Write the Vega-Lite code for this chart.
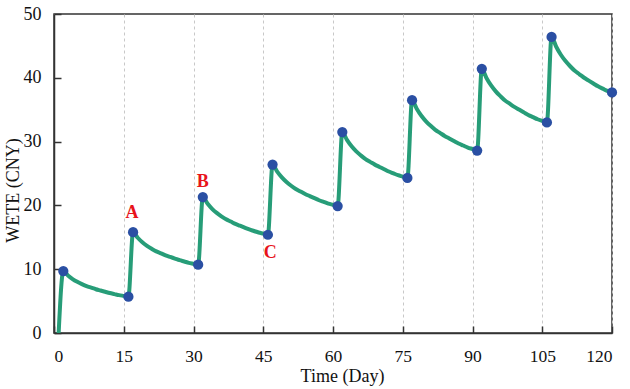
{
  "$schema": "https://vega.github.io/schema/vega-lite/v6.json",
  "autosize": "none",
  "width": 558,
  "height": 319,
  "padding": {"left": 54, "top": 14, "right": 18, "bottom": 56},
  "background": "white",
  "config": {
    "view": {"stroke": "#333", "strokeWidth": 1.5},
    "font": "'Times New Roman', 'Liberation Serif', Tinos, serif",
    "axis": {
      "labelFont": "'Times New Roman', 'Liberation Serif', Tinos, serif",
      "titleFont": "'Times New Roman', 'Liberation Serif', Tinos, serif",
      "labelFontSize": 18,
      "titleFontSize": 18,
      "titleFontWeight": "normal",
      "labelColor": "#111",
      "titleColor": "#111",
      "domainColor": "#333",
      "domainWidth": 1.5,
      "tickColor": "#333",
      "tickWidth": 1.5,
      "tickSize": -7
    }
  },
  "datasets": {
    "curve": [
      {"day": 1, "wete": 0},
      {"day": 2, "wete": 9.7}, {"day": 3, "wete": 9.02}, {"day": 4, "wete": 8.46}, {"day": 5, "wete": 8.02}, {"day": 6, "wete": 7.66}, {"day": 7, "wete": 7.34}, {"day": 8, "wete": 7.1}, {"day": 9, "wete": 6.86}, {"day": 10, "wete": 6.66}, {"day": 11, "wete": 6.46}, {"day": 12, "wete": 6.26}, {"day": 13, "wete": 6.1}, {"day": 14, "wete": 5.94}, {"day": 15, "wete": 5.82}, {"day": 16, "wete": 5.7},
      {"day": 17, "wete": 15.8}, {"day": 18, "wete": 14.93}, {"day": 19, "wete": 14.22}, {"day": 20, "wete": 13.66}, {"day": 21, "wete": 13.2}, {"day": 22, "wete": 12.79}, {"day": 23, "wete": 12.49}, {"day": 24, "wete": 12.18}, {"day": 25, "wete": 11.92}, {"day": 26, "wete": 11.67}, {"day": 27, "wete": 11.41}, {"day": 28, "wete": 11.21}, {"day": 29, "wete": 11.0}, {"day": 30, "wete": 10.85}, {"day": 31, "wete": 10.7},
      {"day": 32, "wete": 21.3}, {"day": 33, "wete": 20.3}, {"day": 34, "wete": 19.47}, {"day": 35, "wete": 18.82}, {"day": 36, "wete": 18.29}, {"day": 37, "wete": 17.82}, {"day": 38, "wete": 17.47}, {"day": 39, "wete": 17.11}, {"day": 40, "wete": 16.82}, {"day": 41, "wete": 16.52}, {"day": 42, "wete": 16.23}, {"day": 43, "wete": 15.99}, {"day": 44, "wete": 15.75}, {"day": 45, "wete": 15.58}, {"day": 46, "wete": 15.4},
      {"day": 47, "wete": 26.4}, {"day": 48, "wete": 25.3}, {"day": 49, "wete": 24.39}, {"day": 50, "wete": 23.67}, {"day": 51, "wete": 23.08}, {"day": 52, "wete": 22.57}, {"day": 53, "wete": 22.18}, {"day": 54, "wete": 21.79}, {"day": 55, "wete": 21.46}, {"day": 56, "wete": 21.14}, {"day": 57, "wete": 20.81}, {"day": 58, "wete": 20.55}, {"day": 59, "wete": 20.29}, {"day": 60, "wete": 20.1}, {"day": 61, "wete": 19.9},
      {"day": 62, "wete": 31.5}, {"day": 63, "wete": 30.28}, {"day": 64, "wete": 29.27}, {"day": 65, "wete": 28.48}, {"day": 66, "wete": 27.83}, {"day": 67, "wete": 27.25}, {"day": 68, "wete": 26.82}, {"day": 69, "wete": 26.39}, {"day": 70, "wete": 26.03}, {"day": 71, "wete": 25.67}, {"day": 72, "wete": 25.31}, {"day": 73, "wete": 25.02}, {"day": 74, "wete": 24.73}, {"day": 75, "wete": 24.52}, {"day": 76, "wete": 24.3},
      {"day": 77, "wete": 36.5}, {"day": 78, "wete": 35.16}, {"day": 79, "wete": 34.05}, {"day": 80, "wete": 33.18}, {"day": 81, "wete": 32.47}, {"day": 82, "wete": 31.84}, {"day": 83, "wete": 31.37}, {"day": 84, "wete": 30.89}, {"day": 85, "wete": 30.5}, {"day": 86, "wete": 30.1}, {"day": 87, "wete": 29.71}, {"day": 88, "wete": 29.39}, {"day": 89, "wete": 29.07}, {"day": 90, "wete": 28.84}, {"day": 91, "wete": 28.6},
      {"day": 92, "wete": 41.4}, {"day": 93, "wete": 39.97}, {"day": 94, "wete": 38.8}, {"day": 95, "wete": 37.87}, {"day": 96, "wete": 37.12}, {"day": 97, "wete": 36.44}, {"day": 98, "wete": 35.94}, {"day": 99, "wete": 35.44}, {"day": 100, "wete": 35.02}, {"day": 101, "wete": 34.6}, {"day": 102, "wete": 34.18}, {"day": 103, "wete": 33.84}, {"day": 104, "wete": 33.5}, {"day": 105, "wete": 33.25}, {"day": 106, "wete": 33.0},
      {"day": 107, "wete": 46.4}, {"day": 108, "wete": 44.87}, {"day": 109, "wete": 43.61}, {"day": 110, "wete": 42.62}, {"day": 111, "wete": 41.81}, {"day": 112, "wete": 41.09}, {"day": 113, "wete": 40.55}, {"day": 114, "wete": 40.01}, {"day": 115, "wete": 39.56}, {"day": 116, "wete": 39.11}, {"day": 117, "wete": 38.66}, {"day": 118, "wete": 38.3}, {"day": 119, "wete": 37.94}, {"day": 120, "wete": 37.7}
    ],
    "dots": [
      {"day": 2, "wete": 9.7}, {"day": 16, "wete": 5.7},
      {"day": 17, "wete": 15.8}, {"day": 31, "wete": 10.7},
      {"day": 32, "wete": 21.3}, {"day": 46, "wete": 15.4},
      {"day": 47, "wete": 26.4}, {"day": 61, "wete": 19.9},
      {"day": 62, "wete": 31.5}, {"day": 76, "wete": 24.3},
      {"day": 77, "wete": 36.5}, {"day": 91, "wete": 28.6},
      {"day": 92, "wete": 41.4}, {"day": 106, "wete": 33.0},
      {"day": 107, "wete": 46.4}, {"day": 120, "wete": 37.7}
    ],
    "labels": [
      {"day": 16.8, "wete": 18.8, "text": "A"},
      {"day": 32, "wete": 23.7, "text": "B"},
      {"day": 46.5, "wete": 12.5, "text": "C"}
    ]
  },
  "layer": [
    {
      "data": {"name": "curve"},
      "mark": {"type": "line", "color": "#279d78", "strokeWidth": 4, "interpolate": "monotone", "clip": true},
      "encoding": {
        "x": {"field": "day", "type": "quantitative",
          "scale": {"domain": [0, 120], "nice": false, "zero": false},
          "axis": {"values": [0, 15, 30, 45, 60, 75, 90, 105, 120], "title": "Time (Day)", "grid": true, "gridDash": [3, 3], "gridColor": "#c8c8c8", "gridWidth": 1, "labelFontSize": 17.5, "labelPadding": 21, "titleX": 288, "titleY": 48, "titleBaseline": "alphabetic", "titleAlign": "center"}},
        "y": {"field": "wete", "type": "quantitative",
          "scale": {"domain": [0, 50], "nice": false},
          "axis": {"values": [0, 10, 20, 30, 40, 50], "title": "WETE (CNY)", "grid": false, "labelPadding": 20, "titleX": -41, "titleY": 176, "titleBaseline": "middle", "titleAlign": "center", "titleAngle": -90}}
      }
    },
    {
      "data": {"name": "dots"},
      "mark": {"type": "circle", "color": "#2a4fa3", "size": 105, "opacity": 1},
      "encoding": {
        "x": {"field": "day", "type": "quantitative"},
        "y": {"field": "wete", "type": "quantitative"}
      }
    },
    {
      "data": {"name": "labels"},
      "mark": {"type": "text", "color": "#e8141b", "font": "'Times New Roman', 'Liberation Serif', Tinos, serif", "fontSize": 18, "fontWeight": "bold", "baseline": "middle", "align": "center"},
      "encoding": {
        "x": {"field": "day", "type": "quantitative"},
        "y": {"field": "wete", "type": "quantitative"},
        "text": {"field": "text"}
      }
    }
  ]
}
